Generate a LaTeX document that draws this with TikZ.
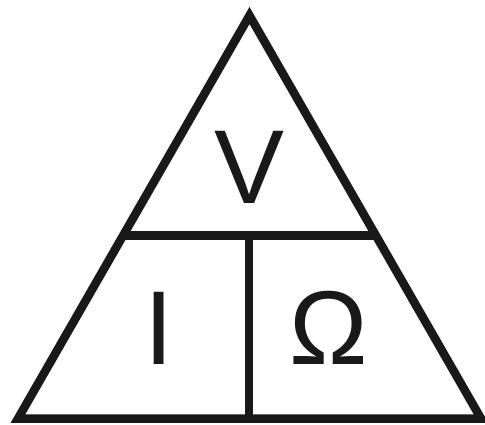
\documentclass[tikz,border=0pt]{standalone}
\usepackage{fontspec}
\setmainfont{Liberation Sans}
\begin{document}
\begin{tikzpicture}[x=1pt,y=-1pt,
  edge/.style={line width=8.5pt,line join=miter,color=black!90},
  lbl/.style={font=\fontsize{105}{105}\selectfont,inner sep=0pt,anchor=base,text=black!90}]
\useasboundingbox (0,0) rectangle (485,424);
\coordinate (top) at (249.5,15.5);
\coordinate (bl) at (18,418.5);
\coordinate (br) at (481,418.5);
\coordinate (ml) at (123,235.5);
\coordinate (mr) at (376,235.5);
\coordinate (mm) at (249,235.5);
\coordinate (mb) at (249,418.5);
\draw[edge] (top) -- (bl) -- (br) -- cycle;
\draw[edge] (ml) -- (mr);
\draw[edge] (mm) -- (mb);
\node[lbl] (v) at (249.5,203) {V};
\node[lbl] (i) at (159,364) {I};
\node[lbl] (o) at (329,364) {Ω};
\end{tikzpicture}
\end{document}
